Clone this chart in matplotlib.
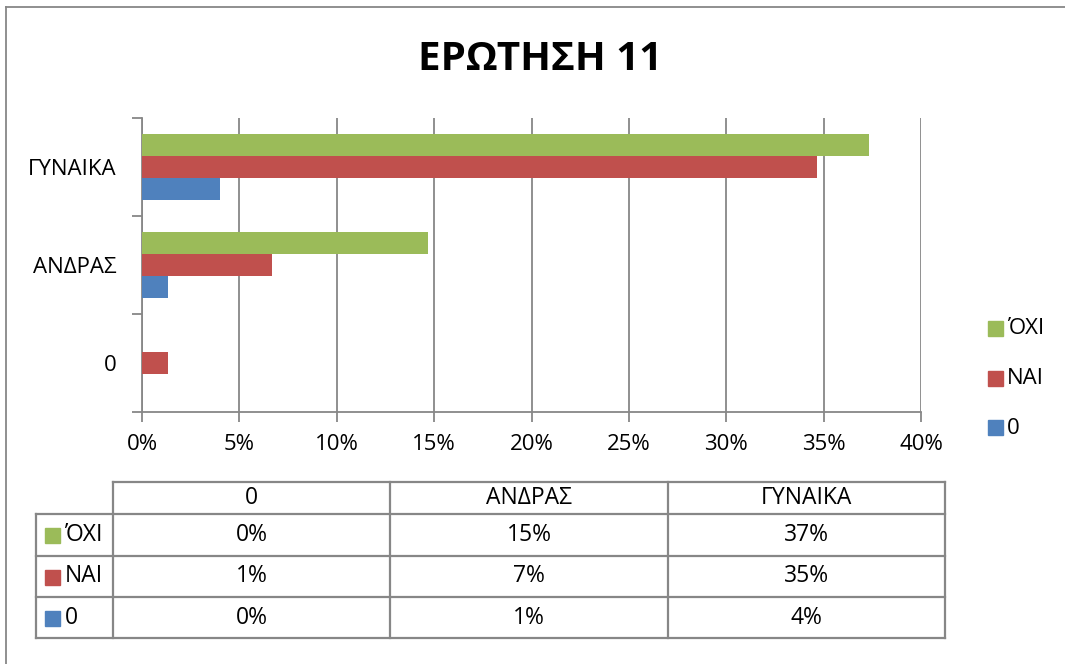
import matplotlib
matplotlib.use("Agg")
import matplotlib.pyplot as plt
from matplotlib.lines import Line2D
from matplotlib.patches import Rectangle
import numpy as np

plt.rcParams['font.family'] = ['Open Sans', 'DejaVu Sans']

categories = ["0", "ΑΝΔΡΑΣ", "ΓΥΝΑΙΚΑ"]
series_names = ["0", "ΝΑΙ", "ΌΧΙ"]
vals_zero = [0.0, 1.33, 4.0]
vals_nai = [1.33, 6.67, 34.67]
vals_oxi = [0.0, 14.67, 37.33]
colors = ["#4F81BD", "#C0504D", "#9BBB59"]
xticks = [0, 5, 10, 15, 20, 25, 30, 35, 40]

W, H = 1065, 664
fig = plt.figure(figsize=(W / 100, H / 100), dpi=100)

def fx(px):
    return px / W

def fy(py):
    return 1 - py / H

gray = "#878787"
fs = 16

# outer chart border (left and top visible)
fig.add_artist(Line2D([fx(6), fx(6)], [fy(7), fy(664)], color=gray, lw=1.3))
fig.add_artist(Line2D([fx(6), fx(1065)], [fy(7), fy(7)], color=gray, lw=1.3))

# title
fig.text(fx(540), fy(59), "ΕΡΩΤΗΣΗ 11", ha="center", va="center",
         fontsize=29, fontweight="bold", color="black")

# main axes
L, R, T, B = 142, 921, 118, 412
ax = fig.add_axes([fx(L), fy(B), fx(R - L), (B - T) / H])
bh = 1 / 4.5
y = np.arange(len(categories))
all_vals = [vals_zero, vals_nai, vals_oxi]
for i, (vals, c) in enumerate(zip(all_vals, colors)):
    ax.barh(y + (i - 1) * bh, vals, height=bh, color=c, zorder=3)

ax.set_xlim(0, 40)
ax.set_ylim(-0.5, 2.5)
ax.set_xticks(xticks)
ax.set_xticklabels([f"{t}%" for t in xticks], fontsize=fs)
ax.set_yticks(y)
ax.set_yticklabels(categories, fontsize=fs)
ax.set_yticks([-0.5, 0.5, 1.5, 2.5], minor=True)
ax.tick_params(axis="y", which="major", length=0, pad=18.5)
ax.tick_params(axis="y", which="minor", length=7, color=gray, width=1.3, direction="out")
ax.tick_params(axis="x", length=7, color=gray, width=1.3, pad=9, direction="out")
ax.grid(axis="x", color=gray, lw=1.3, zorder=0)
for s in ["top", "right"]:
    ax.spines[s].set_visible(False)
for s in ["left", "bottom"]:
    ax.spines[s].set_color(gray)
    ax.spines[s].set_linewidth(1.3)

# legend (right side)
leg_y = [428, 379, 329]
for name, c, ly in zip(series_names, colors, leg_y):
    fig.add_artist(Rectangle((fx(988), fy(ly + 7)), fx(15), 15 / H, color=c))
    fig.text(fx(1007), fy(ly), name, ha="left", va="center", fontsize=fs)

# data table
tax = fig.add_axes([0, 0, 1, 1])
tax.set_xlim(0, W)
tax.set_ylim(H, 0)
tax.axis("off")
col_x = [36, 113, 390, 668, 945]
row_y = [482, 514, 556, 597, 638]
lw = 1.6
tfs = 16.5
tax.plot([col_x[1], col_x[-1]], [row_y[0], row_y[0]], color=gray, lw=lw)
for yy in row_y[1:]:
    tax.plot([col_x[0], col_x[-1]], [yy, yy], color=gray, lw=lw)
tax.plot([col_x[0], col_x[0]], [row_y[1], row_y[-1]], color=gray, lw=lw)
for xx in col_x[1:]:
    tax.plot([xx, xx], [row_y[0], row_y[-1]], color=gray, lw=lw)
for j, cat in enumerate(categories):
    tax.text((col_x[j + 1] + col_x[j + 2]) / 2, (row_y[0] + row_y[1]) / 2, cat,
             ha="center", va="center", fontsize=tfs)
rows = [(series_names[2], colors[2], vals_oxi),
        (series_names[1], colors[1], vals_nai),
        (series_names[0], colors[0], vals_zero)]
for r, (name, c, vals) in enumerate(rows):
    yc = (row_y[r + 1] + row_y[r + 2]) / 2
    tax.add_patch(Rectangle((45, yc - 7), 15, 15, color=c))
    tax.text(65, yc, name, ha="left", va="center", fontsize=tfs)
    for j, v in enumerate(vals):
        tax.text((col_x[j + 1] + col_x[j + 2]) / 2, yc, f"{round(v):.0f}%",
                 ha="center", va="center", fontsize=tfs)

fig.savefig("out.png", dpi=100)
